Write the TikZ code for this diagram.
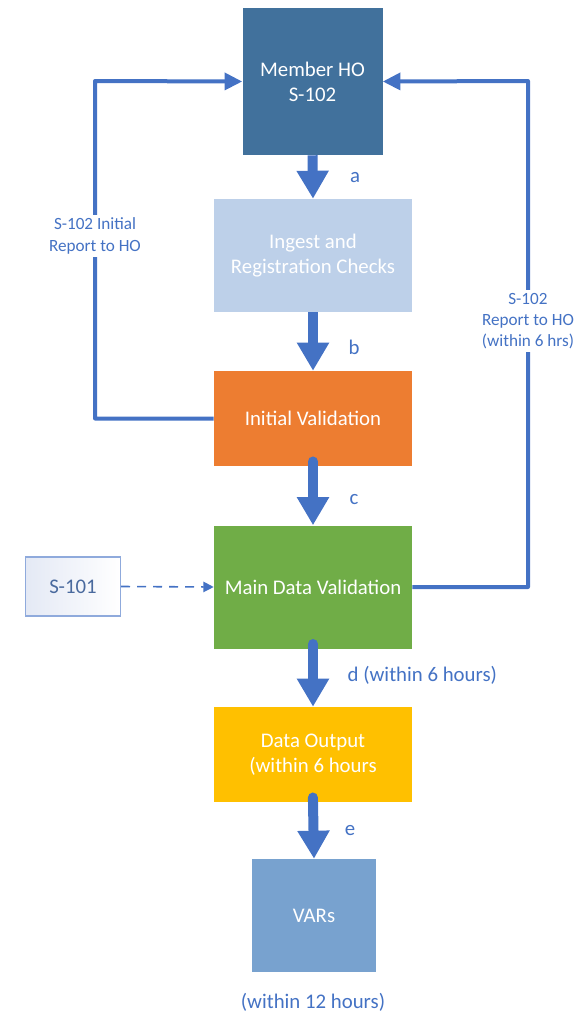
\documentclass[tikz,border=0pt]{standalone}
\usepackage{fontspec}
\setmainfont{Carlito}
\usetikzlibrary{positioning}
\usetikzlibrary{arrows.meta}
\definecolor{hoblue}{HTML}{41719C}
\definecolor{ingestblue}{HTML}{BDD0E9}
\definecolor{initorange}{HTML}{ED7D31}
\definecolor{maingreen}{HTML}{70AD47}
\definecolor{outyellow}{HTML}{FFC000}
\definecolor{varsblue}{HTML}{78A2CF}
\definecolor{linkblue}{HTML}{4472C4}
\definecolor{sideedge}{HTML}{8FAADC}
\definecolor{sidefill}{HTML}{E4E9F5}
\definecolor{sidetext}{HTML}{4A6A9E}
\tikzset{
    stage/.style = {rectangle, draw=none, align=center, text=white, inner sep=0pt, font=\fontsize{14.8}{17.8}\selectfont},
    stageho/.style = {stage, fill=hoblue, minimum width=35mm, minimum height=36.75mm},
    stageingest/.style = {stage, fill=ingestblue, minimum width=49.5mm, minimum height=28.25mm},
    stageinit/.style = {stage, fill=initorange, minimum width=49.5mm, minimum height=23.75mm},
    stagemain/.style = {stage, fill=maingreen, minimum width=49.5mm, minimum height=30.75mm},
    stageout/.style = {stage, fill=outyellow, minimum width=49.5mm, minimum height=23.75mm},
    stagevars/.style = {stage, fill=varsblue, minimum width=31mm, minimum height=28.25mm},
    sidebox/.style = {rectangle, draw=sideedge, line width=0.35mm, left color=sidefill, right color=white, text=sidetext, minimum width=23.75mm, minimum height=14.75mm, font=\fontsize{14.8}{17.8}\selectfont},
    flow/.style = {-{Triangle[width=7.6mm,length=7mm]}, line width=2.5mm, draw=linkblue},
    flowcap/.style = {flow, line cap=round, shorten <=-1.2mm}, % starts inside box
    report/.style = {-{Triangle[width=4.2mm,length=4.4mm]}, line width=1mm, draw=linkblue, line join=round},
    feed/.style = {-{Triangle[width=2.6mm,length=2.6mm]}, line width=0.4mm, draw=linkblue, dash pattern=on 2.2mm off 1.8mm},
    lbl/.style = {text=linkblue, inner sep=1pt, font=\fontsize{14.8}{17.8}\selectfont},
    lblsmall/.style = {text=linkblue, fill=white, align=center, inner sep=2pt, font=\fontsize{12.2}{15.2}\selectfont}
}
\begin{document}
\begin{tikzpicture}[x=0.25mm,y=-0.25mm]
\useasboundingbox (0,0) rectangle (577,1014);
%
\node[stageho] at (312.5,81.5) (ho) {Member HO\\S-102};
\node[stageingest] at (313,255.5) (ingest) {Ingest and\\Registration Checks};
\node[stageinit] at (313,418.5) (initval) {Initial Validation};
\node[stagemain] at (313,587) (mainval) {Main Data Validation};
\node[stageout] at (313,754.5) (output) {Data Output\\(within 6 hours};
\node[stagevars] at (314,915.5) (vars) {VARs};
\node[sidebox] at (73,586.5) (s101) {S-101};
%
\coordinate (lcorner) at (95,81);
\coordinate (rcorner) at (528,81);
%
\draw[flow] (ho.south) -- (ingest.north);
\draw[flow] (ingest.south) -- (initval.north);
\draw[flowcap] (initval.south) -- (mainval.north);
\draw[flowcap] (mainval.south) -- (output.north);
\draw[flowcap] (output.south) -- (vars.north);
\draw[report] (initval.west) -| (lcorner) -- (ho.west);
\draw[report] (mainval.east) -| (rcorner) -- (ho.east);
\draw[feed] (s101.east) -- (mainval.west);
%
\node[lbl] at (355,178) (la) {a};
\node[lbl] at (354,347) (lb) {b};
\node[lbl] at (354,500) (lc) {c};
\node[lbl,anchor=west] at (346,675) (ld) {d (within 6 hours)};
\node[lbl] at (350,831) (le) {e};
\node[lbl] at (313,1002) (lvars) {(within 12 hours)};
\node[lblsmall] at (95,236) (lrep) {S-102 Initial\\Report to HO};
\node[lblsmall] at (528,321) (rrep) {S-102\\Report to HO\\(within 6 hrs)};
\end{tikzpicture}
\end{document}
